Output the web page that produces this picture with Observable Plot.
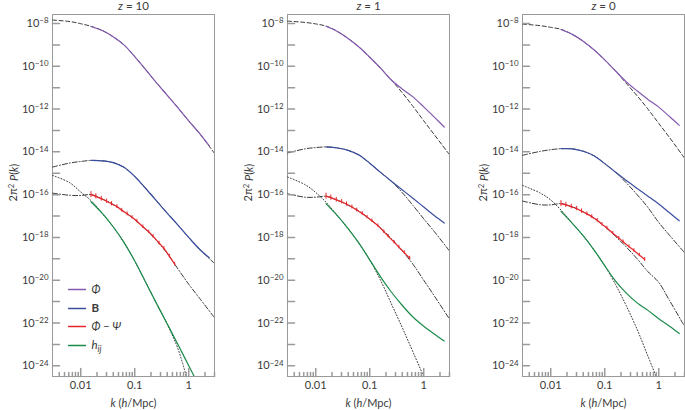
<!DOCTYPE html>
<html><head><meta charset="utf-8">
<script src="https://cdn.jsdelivr.net/npm/d3@7"></script>
<script src="https://cdn.jsdelivr.net/npm/@observablehq/plot@0.6"></script>
<style>
body{margin:0;background:#fff;}
#chart{position:relative;width:685px;height:410px;overflow:hidden;}
#chart svg{position:absolute;top:0;}
</style></head><body><div id="chart"></div>
<script>
// ---------- data (log10 values) ----------
const panelTitles = ["z = 10", "z = 1", "z = 0"];
const yAxisLabel = "2π²P(k)";
const xAxisLabel = "k (h/Mpc)";

// k grids, log10(k in h/Mpc)
const logKTheory = [-2.52, -2.2, -2.0, -1.8, -1.6, -1.4, -1.2, -1.0, -0.8, -0.6, -0.4, -0.2, 0, 0.2, 0.47];
const logKSim    = [-1.81, -1.6, -1.4, -1.2, -1.0, -0.8, -0.6, -0.4, -0.2, 0, 0.2, 0.38];
const logKRed    = [-1.81, -1.72, -1.62, -1.52, -1.43, -1.33, -1.24, -1.14, -1.05, -0.96, -0.85, -0.74, -0.66, -0.55, -0.46, -0.36, -0.26];

// z = 10 : log10(2π²P)
const phiTheoryZ10 = [-7.84, -7.91, -8.01, -8.14, -8.33, -8.62, -9.00, -9.55, -10.15, -10.76, -11.35, -11.94, -12.55, -13.14, -14.05];
const bTheoryZ10   = [-14.71, -14.52, -14.45, -14.40, -14.42, -14.50, -14.72, -15.15, -15.70, -16.28, -16.86, -17.42, -18.0, -18.55, -19.2];
const pmTheoryZ10  = [-15.93, -16.03, -16.04, -16.0, -16.2, -16.46, -16.79, -17.16, -17.61, -18.13, -18.74, -19.47, -20.19, -20.84, -21.73];
const hTheoryZ10   = [-15.10, -15.45, -15.88, -16.30, -16.88, -17.50, -18.23, -19.10, -20.08, -21.07, -22.05, -23.2, -24.9, null, null];
const phiSimZ10 = [-8.14, -8.33, -8.62, -9.00, -9.55, -10.15, -10.76, -11.35, -11.94, -12.55, -13.14, -13.72];
const bSimZ10   = [-14.40, -14.42, -14.50, -14.72, -15.15, -15.70, -16.28, -16.86, -17.42, -18.0, -18.55, -18.95];
const hSimZ10   = [-16.33, -16.88, -17.50, -18.23, -19.10, -20.08, -21.07, -22.03, -23.0, -24.0, -24.97, null];
const redSimZ10 = [-16.00, -16.08, -16.19, -16.31, -16.43, -16.56, -16.73, -16.90, -17.06, -17.24, -17.50, -17.74, -17.95, -18.26, -18.51, -18.87, -19.25];

// z = 1
const phiTheoryZ1 = [-7.89, -7.95, -8.02, -8.13, -8.37, -8.70, -9.10, -9.58, -10.09, -10.64, -11.23, -11.87, -12.55, -13.21, -14.11];
const bTheoryZ1   = [-14.05, -13.86, -13.80, -13.77, -13.82, -13.93, -14.15, -14.53, -14.96, -15.37, -15.90, -16.50, -17.13, -17.74, -18.61];
const pmTheoryZ1  = [-15.96, -16.12, -16.12, -16.08, -16.26, -16.49, -16.77, -17.14, -17.56, -18.06, -18.62, -19.25, -20.0, -20.75, -21.79];
const hTheoryZ1   = [-15.18, -15.53, -15.90, -16.38, -16.98, -17.59, -18.27, -19.05, -20.0, -21.1, -22.2, -23.35, -24.5, -25.6, null];
const phiSimZ1 = [-8.13, -8.37, -8.70, -9.10, -9.58, -10.09, -10.64, -11.06, -11.43, -11.90, -12.39, -12.84];
const bSimZ1   = [-13.77, -13.82, -13.93, -14.15, -14.53, -14.96, -15.37, -15.77, -16.17, -16.58, -16.99, -17.33];
const hSimZ1   = [-16.42, -16.98, -17.59, -18.27, -19.05, -19.84, -20.55, -21.17, -21.72, -22.15, -22.52, -22.84];
const redSimZ1 = [-16.07, -16.14, -16.24, -16.33, -16.44, -16.58, -16.72, -16.88, -17.05, -17.22, -17.45, -17.73, -17.94, -18.22, -18.45, -18.71, -18.97];

// z = 0
const phiTheoryZ0 = [-8.03, -8.10, -8.18, -8.28, -8.51, -8.83, -9.23, -9.70, -10.22, -10.80, -11.38, -12.0, -12.67, -13.33, -14.27];
const bTheoryZ0   = [-14.16, -13.98, -13.90, -13.85, -13.86, -13.97, -14.18, -14.55, -14.95, -15.45, -16.0, -16.6, -17.3, -17.9, -18.69];
const pmTheoryZ0  = [-16.30, -16.47, -16.48, -16.42, -16.58, -16.80, -17.09, -17.49, -17.95, -18.45, -19.0, -19.6, -20.1, -20.95, -22.12];
const hTheoryZ0   = [-15.57, -15.92, -16.25, -16.75, -17.34, -17.92, -18.58, -19.32, -20.2, -21.2, -22.3, -23.55, -24.8, null, null];
const phiSimZ0 = [-8.28, -8.51, -8.83, -9.23, -9.70, -10.22, -10.73, -11.15, -11.55, -11.91, -12.35, -12.76];
const bSimZ0   = [-13.85, -13.86, -13.97, -14.18, -14.55, -14.95, -15.34, -15.71, -16.07, -16.44, -16.85, -17.22];
const hSimZ0   = [-16.78, -17.34, -17.92, -18.58, -19.32, -20.04, -20.60, -21.06, -21.41, -21.80, -22.15, -22.49];
const redSimZ0 = [-16.42, -16.48, -16.56, -16.65, -16.77, -16.90, -17.03, -17.20, -17.39, -17.56, -17.80, -18.03, -18.20, -18.43, -18.61, -18.82, -19.03];

// error bar half-widths (decades) for Φ − Ψ points
const redErr = [0.14, 0.12, 0.11, 0.10, 0.10, 0.09, 0.09, 0.09, 0.08, 0.08, 0.08, 0.08, 0.08, 0.08, 0.08, 0.08, 0.09];

// legend
const legendLabels = ["Φ", "B", "Φ − Ψ", "h_ij"];
const legendColors = ["#8459b0", "#3a4ea0", "#e6262b", "#1a8c4a"];

// ticks
const xMajorTicks = [0.01, 0.1, 1];
const xMinorTicks = [0.004, 0.005, 0.006, 0.007, 0.008, 0.009, 0.02, 0.03, 0.04, 0.05, 0.06, 0.07, 0.08, 0.09,
                     0.2, 0.3, 0.4, 0.5, 0.6, 0.7, 0.8, 0.9, 2, 3];
const yTickExps  = [-8, -9, -10, -11, -12, -13, -14, -15, -16, -17, -18, -19, -20, -21, -22, -23, -24];
const yLabelExps = [-8, -10, -12, -14, -16, -18, -20, -22, -24];

// ---------- build ----------
const panels = [
  {title: panelTitles[0], phiT: phiTheoryZ10, bT: bTheoryZ10, pmT: pmTheoryZ10, hT: hTheoryZ10, phiS: phiSimZ10, bS: bSimZ10, hS: hSimZ10, redS: redSimZ10},
  {title: panelTitles[1], phiT: phiTheoryZ1,  bT: bTheoryZ1,  pmT: pmTheoryZ1,  hT: hTheoryZ1,  phiS: phiSimZ1,  bS: bSimZ1,  hS: hSimZ1,  redS: redSimZ1},
  {title: panelTitles[2], phiT: phiTheoryZ0,  bT: bTheoryZ0,  pmT: pmTheoryZ0,  hT: hTheoryZ0,  phiS: phiSimZ0,  bS: bSimZ0,  hS: hSimZ0,  redS: redSimZ0}
];
const lefts = [0, 235, 470];
const widths = [235, 235, 215];
const marginRights = [21, 21, 1];
const FONT = "Lato, 'Open Sans', sans-serif";
const GRAY = "#9a9a9a";
const TXT = "#3a3a3a";

const rows = (lk, lp) => lk.map((v, i) => ({k: 10 ** v, P: lp[i] == null ? null : 10 ** lp[i]}));
const tickShape = {draw(ctx, l) { ctx.moveTo(0, 0); ctx.lineTo(0, -l); }};
const powLabel = d => "10^" + Math.round(Math.log10(d));

function decorate(svg) {
  d3.select(svg).selectAll("text").each(function () {
    const t = this.textContent;
    const s = d3.select(this);
    if (t.startsWith("10^")) {
      const e = t.slice(3).replace("-", "−");
      s.html(`10<tspan dy="-0.45em" font-size="72%">${e}</tspan>`);
    } else if (t.startsWith("z = ")) {
      s.html(`<tspan font-style="italic">z</tspan>${t.slice(1)}`);
    } else if (t === yAxisLabel) {
      s.html(`2π<tspan dy="-0.4em" font-size="70%">2</tspan><tspan dy="0.4em"> </tspan><tspan font-style="italic">P</tspan>(<tspan font-style="italic">k</tspan>)`);
    } else if (t === xAxisLabel) {
      s.html(`<tspan font-style="italic">k</tspan> (<tspan font-style="italic">h</tspan>/Mpc)`);
    } else if (t === "h_ij") {
      s.html(`<tspan font-style="italic">h</tspan><tspan font-style="italic" dy="0.35em" font-size="75%">ij</tspan>`);
    }
  });
}

const chart = document.getElementById("chart");
const legendDy = [-87, -68, -50, -31];

panels.forEach((p, pi) => {
  const marks = [
    Plot.frame({stroke: GRAY, strokeWidth: 1}),
    // theory curves
    Plot.line(rows(logKTheory, p.hT),   {x: "k", y: "P", stroke: "#222", strokeWidth: 0.9, strokeDasharray: "1,2", curve: "catmull-rom", clip: true}),
    Plot.line(rows(logKTheory, p.pmT),  {x: "k", y: "P", stroke: "#222", strokeWidth: 0.9, strokeDasharray: "5,2,1,2", curve: "catmull-rom", clip: true}),
    Plot.line(rows(logKTheory, p.bT),   {x: "k", y: "P", stroke: "#222", strokeWidth: 0.9, strokeDasharray: "5,2,1,2", curve: "catmull-rom", clip: true}),
    Plot.line(rows(logKTheory, p.phiT), {x: "k", y: "P", stroke: "#222", strokeWidth: 0.9, strokeDasharray: "4,2.5", curve: "catmull-rom", clip: true}),
    // simulation curves
    Plot.line(rows(logKSim, p.phiS), {x: "k", y: "P", stroke: legendColors[0], strokeWidth: 1.2, curve: "catmull-rom", clip: true}),
    Plot.line(rows(logKSim, p.bS),   {x: "k", y: "P", stroke: legendColors[1], strokeWidth: 1.2, curve: "catmull-rom", clip: true}),
    Plot.line(rows(logKSim, p.hS),   {x: "k", y: "P", stroke: legendColors[3], strokeWidth: 1.2, curve: "catmull-rom", clip: true}),
    Plot.line(rows(logKRed, p.redS), {x: "k", y: "P", stroke: legendColors[2], strokeWidth: 1.2, curve: "catmull-rom", clip: true}),
    Plot.ruleX(logKRed.map((v, i) => ({k: 10 ** v, lo: 10 ** (p.redS[i] - redErr[i]), hi: 10 ** (p.redS[i] + redErr[i])})),
      {x: "k", y1: "lo", y2: "hi", stroke: legendColors[2], strokeWidth: 1}),
    // inward ticks
    Plot.vector(yTickExps.map(e => 10 ** e), {y: d => d, frameAnchor: "left", rotate: 90, length: 7, anchor: "start", shape: tickShape, stroke: GRAY}),
    Plot.vector(xMajorTicks, {x: d => d, frameAnchor: "bottom", length: 8, anchor: "start", shape: tickShape, stroke: GRAY}),
    Plot.vector(xMinorTicks, {x: d => d, frameAnchor: "bottom", length: 4, anchor: "start", shape: tickShape, stroke: GRAY}),
    // axis labels
    Plot.axisY({ticks: yLabelExps.map(e => 10 ** e), tickSize: 0, tickPadding: 4, tickFormat: powLabel, label: null, fontSize: 11, fill: TXT}),
    Plot.axisX({ticks: xMajorTicks, tickSize: 0, tickPadding: 5, tickFormat: d => String(d), label: null, fontSize: 11, fill: TXT}),
    Plot.text([p.title], {text: d => d, frameAnchor: "top", lineAnchor: "middle", dy: -8, fontSize: 11.5, fill: TXT}),
    Plot.text([yAxisLabel], {text: d => d, frameAnchor: "left", lineAnchor: "middle", dx: -39, dy: 6, rotate: -90, fontSize: 11, fill: TXT}),
    Plot.text([xAxisLabel], {text: d => d, frameAnchor: "bottom", lineAnchor: "middle", dy: 27, fontSize: 11, fill: TXT})
  ];
  if (pi === 0) {
    legendLabels.forEach((lab, i) => {
      marks.push(Plot.vector([lab], {frameAnchor: "bottom-left", dx: 16, dy: legendDy[i], rotate: 90, length: 17, anchor: "start",
        shape: tickShape, stroke: legendColors[i], strokeWidth: 1.3}));
      marks.push(Plot.text([lab], {text: d => d, frameAnchor: "bottom-left", lineAnchor: "middle", dx: 39, dy: legendDy[i], textAnchor: "start",
        fontSize: 11.5, fill: TXT, fontStyle: i === 1 ? "normal" : "italic", fontWeight: i === 1 ? "bold" : "normal"}));
    });
  }
  const svg = Plot.plot({
    width: widths[pi], height: 410,
    marginLeft: 52, marginRight: marginRights[pi], marginTop: 14, marginBottom: 34,
    x: {type: "log", domain: [0.003, 3]},
    y: {type: "log", domain: [10 ** -24.5, 10 ** -7.58]},
    style: {fontFamily: FONT, fontSize: "11px", color: TXT, background: "transparent", overflow: "visible"},
    marks
  });
  decorate(svg);
  svg.style.left = lefts[pi] + "px";
  chart.appendChild(svg);
});
</script>
</body></html>
